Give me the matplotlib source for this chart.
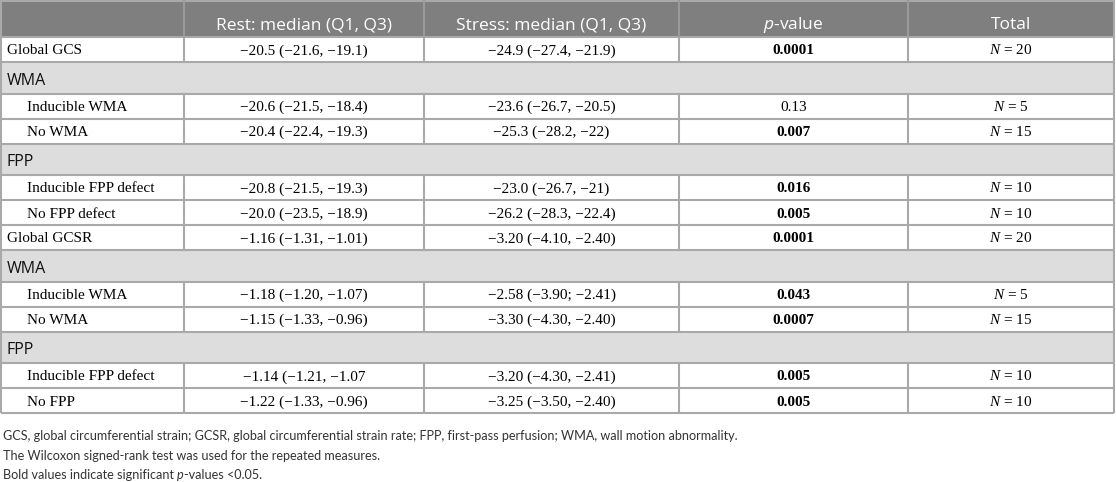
import matplotlib.pyplot as plt
from matplotlib.patches import Rectangle

plt.rcParams['font.serif'] = ['Liberation Serif', 'DejaVu Serif']
plt.rcParams['mathtext.fontset'] = 'custom'
plt.rcParams['mathtext.it'] = 'Liberation Serif:italic'
plt.rcParams['mathtext.rm'] = 'Liberation Serif'
plt.rcParams['mathtext.sf'] = 'Open Sans:italic'

# Table content
headers = ["", "Rest: median (Q1, Q3)", "Stress: median (Q1, Q3)", r"$\mathsf{p}$-value", "Total"]
labels = ["Global GCS", "WMA", "Inducible WMA", "No WMA", "FPP", "Inducible FPP defect",
          "No FPP defect", "Global GCSR", "WMA", "Inducible WMA", "No WMA", "FPP",
          "Inducible FPP defect", "No FPP"]
kinds = ["top", "section", "sub", "sub", "section", "sub", "sub",
         "top", "section", "sub", "sub", "section", "sub", "sub"]
rest = ["−20.5 (−21.6, −19.1)", "", "−20.6 (−21.5, −18.4)", "−20.4 (−22.4, −19.3)", "",
        "−20.8 (−21.5, −19.3)", "−20.0 (−23.5, −18.9)", "−1.16 (−1.31, −1.01)", "",
        "−1.18 (−1.20, −1.07)", "−1.15 (−1.33, −0.96)", "",
        "−1.14 (−1.21, −1.07", "−1.22 (−1.33, −0.96)"]
stress = ["−24.9 (−27.4, −21.9)", "", "−23.6 (−26.7, −20.5)", "−25.3 (−28.2, −22)", "",
          "−23.0 (−26.7, −21)", "−26.2 (−28.3, −22.4)", "−3.20 (−4.10, −2.40)", "",
          "−2.58 (−3.90; −2.41)", "−3.30 (−4.30, −2.40)", "",
          "−3.20 (−4.30, −2.41)", "−3.25 (−3.50, −2.40)"]
pvals = ["0.0001", "", "0.13", "0.007", "", "0.016", "0.005", "0.0001", "",
         "0.043", "0.0007", "", "0.005", "0.005"]
significant = [True, False, False, True, False, True, True, True, False,
               True, True, False, True, True]
totals = [20, None, 5, 15, None, 10, 10, 20, None, 5, 15, None, 10, 10]
# each footnote line is a list of (text, italic) pieces
footnotes = [
    [("GCS, global circumferential strain; GCSR, global circumferential strain rate; "
      "FPP, first-pass perfusion; WMA, wall motion abnormality.", False)],
    [("The Wilcoxon signed-rank test was used for the repeated measures.", False)],
    [("Bold values indicate significant ", False), ("p", True), ("-values <0.05.", False)],
]

# layout in pixels
W, H = 1116, 482
col_edges = [1, 184, 424, 679, 908, 1114]
header_h, data_h, section_h = 37, 25, 31.5
line_c = "#a9a9a9"
header_c = "#7f7f7f"
section_c = "#dddddd"
sans = "Open Sans"
data_fs = 11

fig = plt.figure(figsize=(W / 100, H / 100), dpi=100)
ax = fig.add_axes([0, 0, 1, 1])
ax.set_xlim(0, W)
ax.set_ylim(H, 0)
ax.axis("off")

# header
ax.add_patch(Rectangle((col_edges[0], 0), col_edges[-1] - col_edges[0], header_h,
                       facecolor=header_c, edgecolor="none"))
for i, h in enumerate(headers):
    cx = (col_edges[i] + col_edges[i + 1]) / 2
    ax.text(cx, 29, h, ha="center", va="baseline", color="white",
            fontsize=12.5, family=sans)

y = header_h
row_tops = []
for k in kinds:
    row_tops.append(y)
    y += section_h if k == "section" else data_h
table_bottom = y

for i, k in enumerate(kinds):
    top = row_tops[i]
    if k == "section":
        ax.add_patch(Rectangle((col_edges[0], top), col_edges[-1] - col_edges[0], section_h,
                               facecolor=section_c, edgecolor="none"))
        ax.text(7, top + section_h / 2 + 7, labels[i], ha="left", va="baseline",
                fontsize=11.5, family=sans, color="#111111")
        continue
    by = top + data_h / 2 + 5
    x0 = 7 if k == "top" else 27
    ax.text(x0, by, labels[i], ha="left", va="baseline", fontsize=data_fs, family="serif")
    cols = [rest[i], stress[i]]
    for j, s in enumerate(cols):
        cx = (col_edges[j + 1] + col_edges[j + 2]) / 2
        ax.text(cx, by, s, ha="center", va="baseline", fontsize=data_fs, family="serif")
    cx = (col_edges[3] + col_edges[4]) / 2
    ax.text(cx, by, pvals[i], ha="center", va="baseline", fontsize=data_fs, family="serif",
            fontweight="bold" if significant[i] else "normal")
    cx = (col_edges[4] + col_edges[5]) / 2
    ax.text(cx, by, "$N$ = %d" % totals[i], ha="center", va="baseline",
            fontsize=data_fs, family="serif")

# grid lines
lw = 1.5
ax.hlines([0.7, header_h] + row_tops[1:] + [table_bottom], col_edges[0], col_edges[-1],
          colors=line_c, linewidth=lw)
ax.vlines([col_edges[0], col_edges[-1]], 0, table_bottom, colors=line_c, linewidth=lw)
for x in col_edges[1:-1]:
    ax.vlines(x, 0, header_h, colors="#9a9a9a", linewidth=lw)
    for i, k in enumerate(kinds):
        if k != "section":
            ax.vlines(x, row_tops[i], row_tops[i] + data_h, colors=line_c, linewidth=lw)

# footnotes, pieces placed one after another
renderer = fig.canvas.get_renderer()
for n, pieces in enumerate(footnotes):
    x = 3
    for txt, ital in pieces:
        t = ax.text(x, 440 + n * 19.5, txt, ha="left", va="baseline", fontsize=9.1,
                    family="Lato", color="#333333",
                    fontstyle="italic" if ital else "normal")
        bb = t.get_window_extent(renderer=renderer)
        x += bb.width * W / fig.bbox.width

fig.savefig("out.png", dpi=100)
